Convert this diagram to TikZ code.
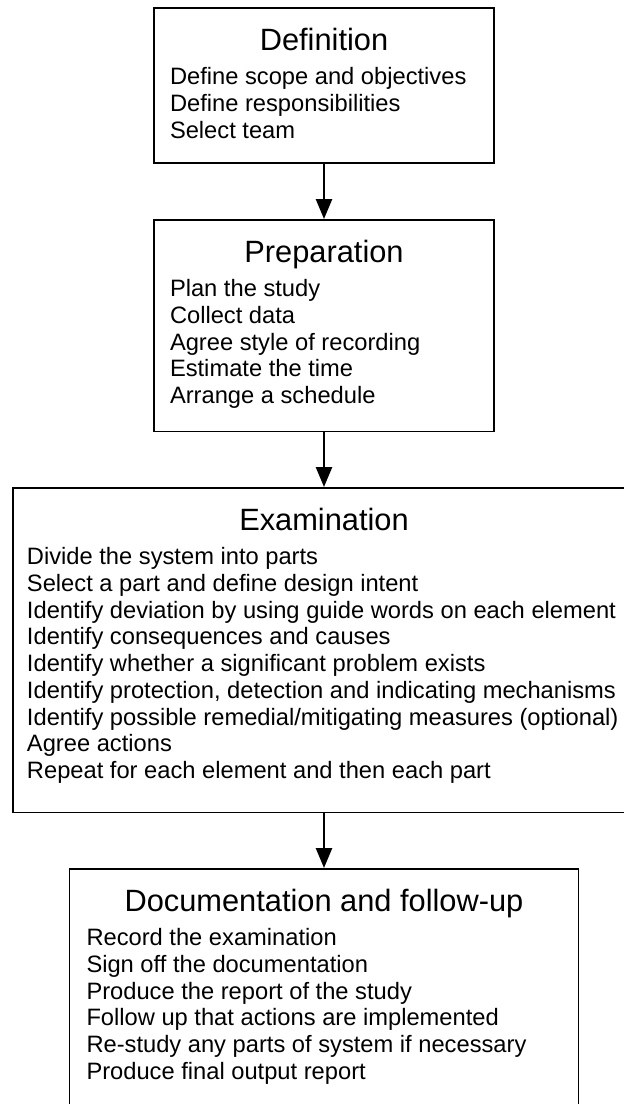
\documentclass[tikz,border=0pt]{standalone}
\usepackage{fontspec}
\setmainfont{Liberation Sans}
\usepackage{tikz}
\usetikzlibrary{positioning, arrows.meta}
\newcommand{\bodysize}{\fontsize{23.7pt}{26.7pt}\selectfont}
\newcommand{\headsize}{\fontsize{30.8pt}{34pt}\selectfont}
% width, title, lines, space below the last line
\newcommand{\stagetext}[4]{%
  \begin{minipage}[t]{#1}\bodysize\raggedright
    \makebox[\linewidth]{\rule{0pt}{43pt}\headsize #2}\par\vspace{7.3pt}
    #3\rule[-#4]{0pt}{#4}%
  \end{minipage}}

\begin{document}
\begin{tikzpicture}[x=1pt, y=-1pt, >={Triangle[length=20pt, width=16pt]},
    stage/.style={draw, line width=1.6pt, anchor=north, inner ysep=0pt},
    flow/.style={->, line width=2.6pt}]
    \useasboundingbox (0,0) rectangle (624,1104);
    \clip (0,0) rectangle (624,1104);

    % Definition Box
    \node[stage, inner xsep=16pt] (def) at (324,7) {\stagetext{308pt}{Definition}{Define scope and objectives\\
      Define responsibilities\\
      Select team}{25pt}};

    % Preparation Box
    \node[stage, inner xsep=16pt] (prep) at (324,219) {\stagetext{308pt}{Preparation}{Plan the study\\
      Collect data\\
      Agree style of recording\\
      Estimate the time\\
      Arrange a schedule}{28pt}};

    % Examination Box
    \node[stage, inner xsep=14pt] (exam) at (324,487) {\stagetext{594pt}{Examination}{Divide the system into parts\\
      Select a part and define design intent\\
      Identify deviation by using guide words on each element\\
      Identify consequences and causes\\
      Identify whether a significant problem exists\\
      Identify protection, detection and indicating mechanisms\\
      Identify possible remedial/mitigating measures (optional)\\
      Agree actions\\
      Repeat for each element and then each part}{34pt}};

    % Documentation Box
    \node[stage, inner xsep=17pt] (doc) at (324,868) {\stagetext{475pt}{Documentation and follow-up}{Record the examination\\
      Sign off the documentation\\
      Produce the report of the study\\
      Follow up that actions are implemented\\
      Re-study any parts of system if necessary\\
      Produce final output report}{35pt}};

    \draw[flow] (def) -- (prep);
    \draw[flow] (prep) -- (exam);
    \draw[flow] (exam) -- (doc);
\end{tikzpicture}
\end{document}
